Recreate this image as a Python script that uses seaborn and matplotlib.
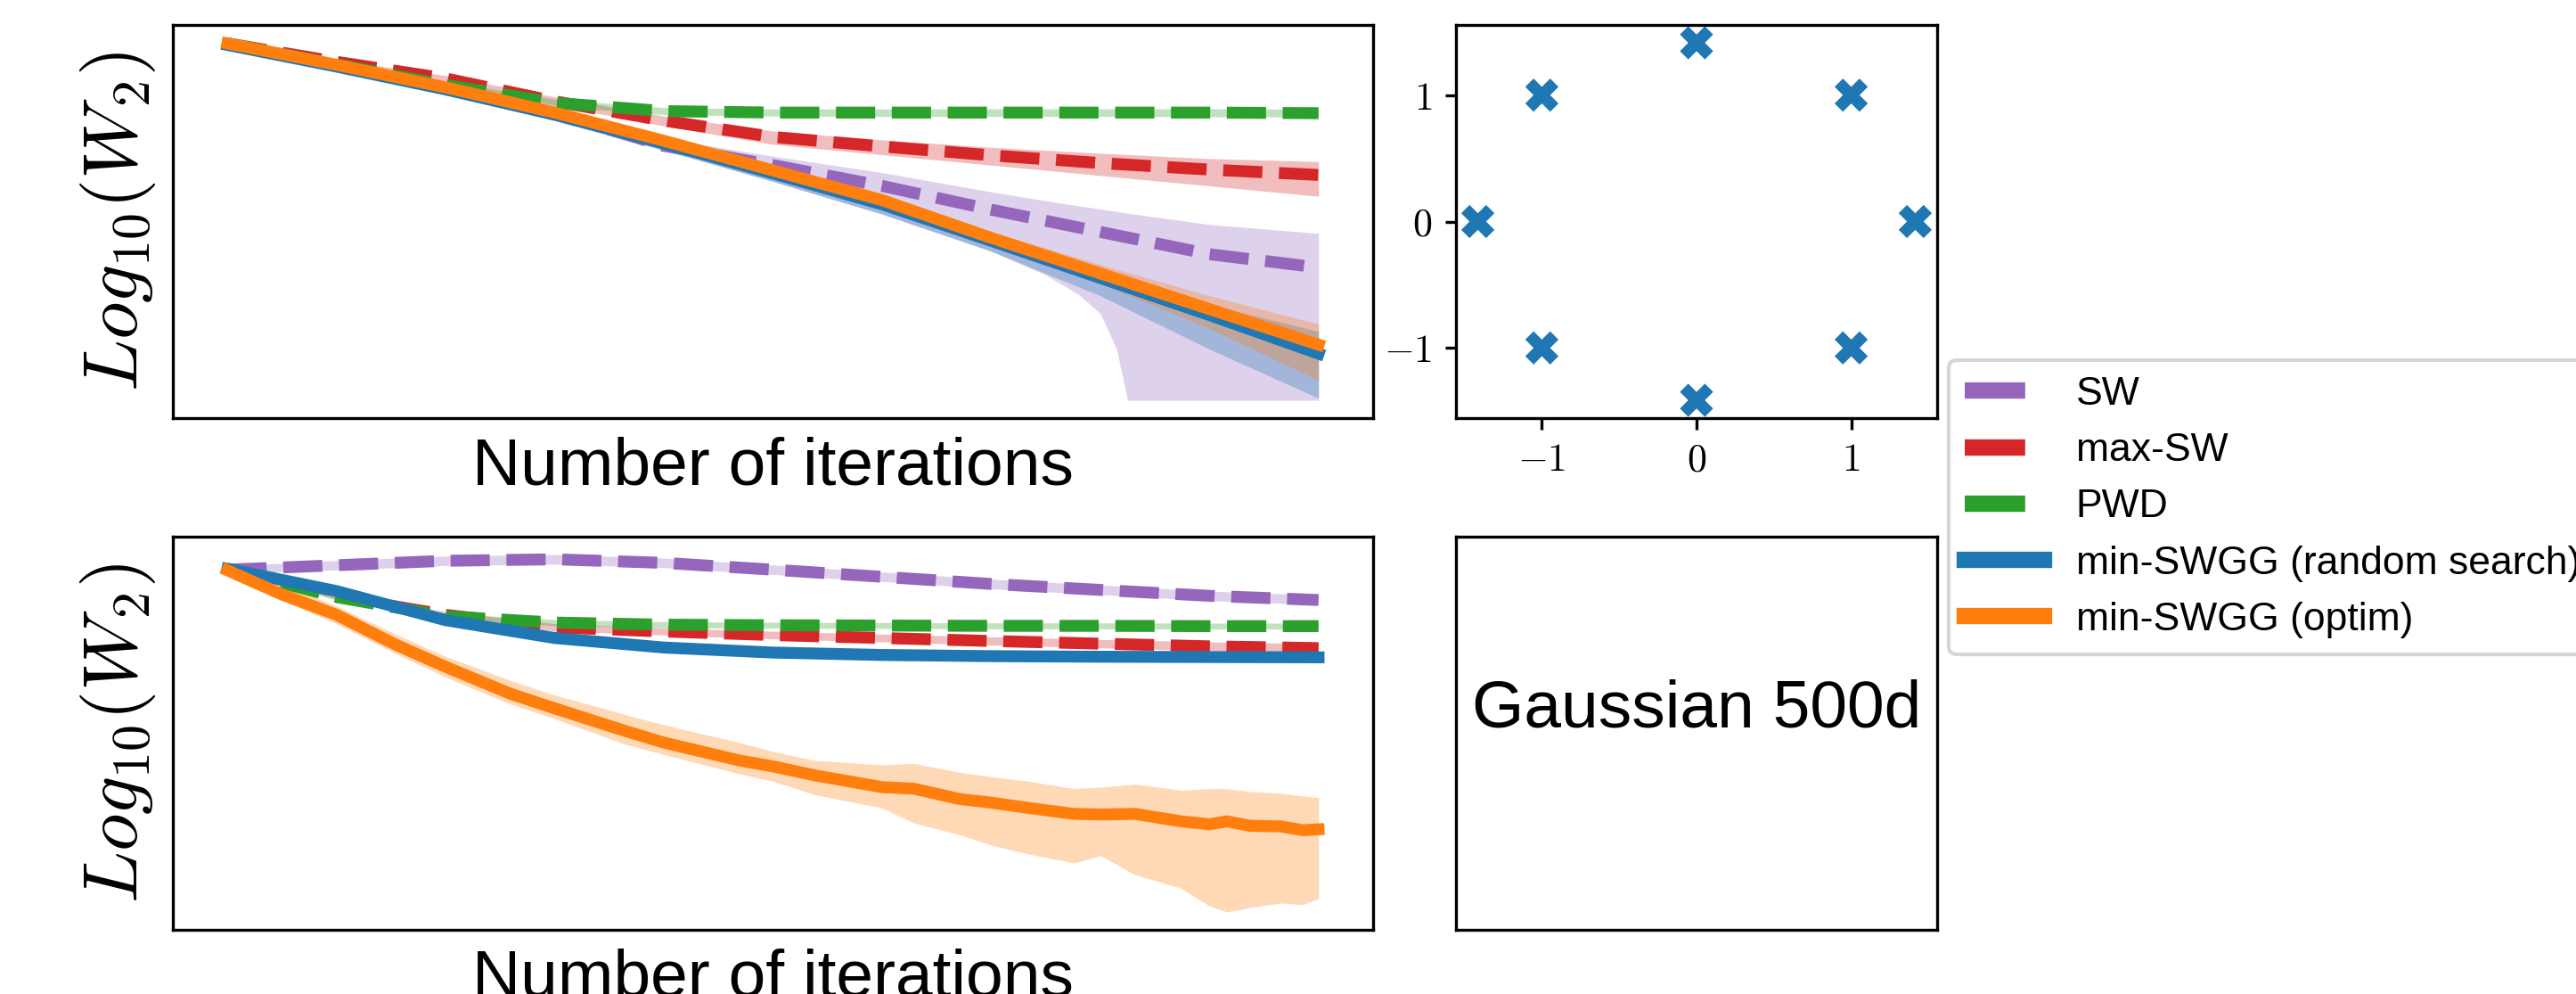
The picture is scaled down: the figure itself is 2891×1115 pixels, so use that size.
import matplotlib
matplotlib.use('Agg')
import matplotlib.pyplot as plt
from matplotlib.lines import Line2D
import seaborn as sns

# ---------------------------------------------------------------
# data (y is log10(W2), arbitrary offset)
# ---------------------------------------------------------------
iters = [0, 100, 200, 300, 400, 500, 600, 700, 800, 900, 1000]

# --- top panel: 2d gaussian mixture ---
top_sw = [-0.150, -0.222, -0.300, -0.385, -0.495, -0.560, -0.630, -0.710, -0.785, -0.860, -0.905]
top_sw_band_x = [0, 100, 200, 300, 400, 500, 600, 700, 750, 780, 800, 815, 825, 900, 1000]
top_sw_hi = [-0.150, -0.218, -0.292, -0.372, -0.470, -0.530, -0.585, -0.650, -0.680, -0.697, -0.708, -0.716, -0.722, -0.760, -0.790]
top_sw_lo = [-0.160, -0.240, -0.322, -0.410, -0.510, -0.615, -0.725, -0.850, -0.930, -0.995, -1.060, -1.180, -1.352, -1.352, -1.352]

top_maxsw = [-0.150, -0.212, -0.268, -0.345, -0.410, -0.465, -0.497, -0.527, -0.553, -0.575, -0.593]
top_maxsw_hi = [-0.150, -0.205, -0.258, -0.330, -0.395, -0.445, -0.475, -0.500, -0.520, -0.538, -0.548]
top_maxsw_lo = [-0.150, -0.220, -0.280, -0.358, -0.428, -0.490, -0.525, -0.560, -0.595, -0.630, -0.665]

top_pwd = [-0.150, -0.220, -0.290, -0.350, -0.378, -0.383, -0.383, -0.383, -0.383, -0.383, -0.385]
top_pwd_hi = [-0.148, -0.210, -0.278, -0.338, -0.366, -0.371, -0.371, -0.370, -0.370, -0.370, -0.372]
top_pwd_lo = [-0.152, -0.230, -0.302, -0.362, -0.390, -0.395, -0.396, -0.396, -0.396, -0.397, -0.398]

top_rs = [-0.155, -0.228, -0.305, -0.390, -0.487, -0.588, -0.692, -0.815, -0.940, -1.065, -1.195]
top_rs_hi = [-0.150, -0.222, -0.298, -0.380, -0.475, -0.575, -0.678, -0.800, -0.915, -1.030, -1.120]
top_rs_lo = [-0.160, -0.240, -0.322, -0.410, -0.510, -0.615, -0.725, -0.850, -1.000, -1.180, -1.345]

top_opt = [-0.150, -0.222, -0.298, -0.383, -0.478, -0.578, -0.678, -0.805, -0.925, -1.045, -1.165]
top_opt_hi = [-0.148, -0.218, -0.292, -0.375, -0.470, -0.568, -0.665, -0.785, -0.895, -1.000, -1.095]
top_opt_lo = [-0.152, -0.226, -0.304, -0.391, -0.486, -0.588, -0.695, -0.830, -0.960, -1.110, -1.285]

# --- bottom panel: gaussian 500d ---
bot_sw = [-0.148, -0.133, -0.118, -0.113, -0.125, -0.148, -0.172, -0.196, -0.216, -0.236, -0.250]
bot_sw_hi = [-0.135, -0.117, -0.102, -0.097, -0.109, -0.132, -0.156, -0.180, -0.200, -0.220, -0.234]
bot_sw_lo = [-0.160, -0.149, -0.134, -0.129, -0.141, -0.164, -0.188, -0.212, -0.232, -0.252, -0.266]

bot_maxsw = [-0.145, -0.238, -0.300, -0.342, -0.356, -0.368, -0.378, -0.388, -0.397, -0.406, -0.412]
bot_maxsw_hi = [-0.145, -0.228, -0.289, -0.330, -0.344, -0.355, -0.365, -0.374, -0.383, -0.391, -0.397]
bot_maxsw_lo = [-0.145, -0.248, -0.311, -0.354, -0.368, -0.381, -0.391, -0.402, -0.411, -0.421, -0.427]

bot_pwd = [-0.145, -0.240, -0.305, -0.326, -0.333, -0.335, -0.336, -0.337, -0.337, -0.338, -0.338]
bot_pwd_hi = [-0.145, -0.230, -0.295, -0.316, -0.323, -0.325, -0.326, -0.327, -0.327, -0.328, -0.328]
bot_pwd_lo = [-0.145, -0.250, -0.315, -0.336, -0.343, -0.345, -0.346, -0.347, -0.347, -0.348, -0.348]

bot_rs = [-0.145, -0.220, -0.318, -0.378, -0.410, -0.427, -0.435, -0.439, -0.441, -0.442, -0.443]
bot_rs_hi = [-0.140, -0.214, -0.312, -0.372, -0.404, -0.421, -0.429, -0.433, -0.435, -0.436, -0.437]
bot_rs_lo = [-0.150, -0.226, -0.324, -0.384, -0.416, -0.433, -0.441, -0.445, -0.447, -0.448, -0.449]

bot_opt_x = [0, 49, 100, 154, 200, 259, 300, 364, 400, 469, 500, 538, 600, 629, 671,
             700, 734, 776, 800, 832, 874, 900, 916, 937, 965, 986, 1000]
bot_opt = [-0.150, -0.230, -0.300, -0.400, -0.475, -0.565, -0.615, -0.690, -0.730, -0.790, -0.810,
           -0.840, -0.880, -0.885, -0.920, -0.932, -0.950, -0.970, -0.972, -0.970, -0.995, -1.005,
           -0.995, -1.010, -1.012, -1.025, -1.022]
bot_opt_hi = [-0.150, -0.195, -0.270, -0.365, -0.440, -0.520, -0.570, -0.635, -0.670, -0.730, -0.760,
              -0.790, -0.805, -0.800, -0.830, -0.845, -0.860, -0.885, -0.880, -0.870, -0.890, -0.885,
              -0.885, -0.895, -0.900, -0.910, -0.915]
bot_opt_lo = [-0.160, -0.250, -0.330, -0.430, -0.510, -0.600, -0.650, -0.735, -0.770, -0.835, -0.860,
              -0.905, -0.950, -1.000, -1.040, -1.075, -1.105, -1.135, -1.110, -1.175, -1.220, -1.280,
              -1.300, -1.285, -1.270, -1.275, -1.255]

# --- 2d source distribution (8 gaussians on a circle) ---
pts_x = [1.414, 1.0, 0.0, -1.0, -1.414, -1.0, 0.0, 1.0]
pts_y = [0.0, 1.0, 1.414, 1.0, 0.0, -1.0, -1.414, -1.0]
tick_vals = [-1, 0, 1]
tick_labels = [r'$-1$', r'$0$', r'$1$']

methods = ['SW', 'max-SW', 'PWD', 'min-SWGG (random search)', 'min-SWGG (optim)']
colors = ['#9467bd', '#d62728', '#2ca02c', '#1f77b4', '#ff7f0e']
dashed = (0, (3.3, 1.4))
styles = [dashed, dashed, dashed, '-', '-']

# ---------------------------------------------------------------
plt.rcParams['font.family'] = ['Liberation Sans', 'DejaVu Sans']
plt.rcParams['mathtext.fontset'] = 'cm'

W, H = 2891, 1115
fig = plt.figure(figsize=(W / 300, H / 300), dpi=300)


def box(x0, y0, x1, y1):
    return [x0 / W, 1 - y1 / H, (x1 - x0) / W, (y1 - y0) / H]


ax_top = fig.add_axes(box(194, 28, 1541, 469))
ax_bot = fig.add_axes(box(194, 602, 1541, 1043))
ax_pts = fig.add_axes(box(1634, 28, 2174, 469))
ax_txt = fig.add_axes(box(1634, 602, 2174, 1043))

LW = 3.2


def draw(ax, x, y, bx, lo, hi, color, ls):
    ax.fill_between(bx, lo, hi, color=color, alpha=0.3, linewidth=0)
    sns.lineplot(x=x, y=y, ax=ax, color=color, linewidth=LW)
    line = ax.get_lines()[-1]
    line.set_linewidth(LW)
    line.set_linestyle(ls)


top_series = [
    (iters, top_sw, top_sw_band_x, top_sw_lo, top_sw_hi),
    (iters, top_maxsw, iters, top_maxsw_lo, top_maxsw_hi),
    (iters, top_pwd, iters, top_pwd_lo, top_pwd_hi),
    (iters, top_rs, iters, top_rs_lo, top_rs_hi),
    (iters, top_opt, iters, top_opt_lo, top_opt_hi),
]
bot_series = [
    (iters, bot_sw, iters, bot_sw_lo, bot_sw_hi),
    (iters, bot_maxsw, iters, bot_maxsw_lo, bot_maxsw_hi),
    (iters, bot_pwd, iters, bot_pwd_lo, bot_pwd_hi),
    (iters, bot_rs, iters, bot_rs_lo, bot_rs_hi),
    (bot_opt_x, bot_opt, bot_opt_x, bot_opt_lo, bot_opt_hi),
]

for ax, series in [(ax_top, top_series), (ax_bot, bot_series)]:
    for (x, y, bx, lo, hi), c, ls in zip(series, colors, styles):
        draw(ax, x, y, bx, lo, hi, c, ls)
    ax.set_xticks([])
    ax.set_yticks([])
    ax.set_xlabel('Number of iterations', fontsize=18, labelpad=5)
    ax.set_ylabel(r'$Log_{10}(W_2)$', fontsize=20.5)

# scatter of the source points
sns.scatterplot(x=pts_x, y=pts_y, ax=ax_pts, marker='X', s=80, color='#1f77b4',
                edgecolor='none', linewidth=0)
ax_pts.set_xticks(tick_vals, labels=tick_labels)
ax_pts.set_yticks(tick_vals, labels=tick_labels)
ax_pts.tick_params(labelsize=10.5, length=3)

# text panel
ax_txt.set_xticks([])
ax_txt.set_yticks([])
ax_txt.text(0.5, 0.56, 'Gaussian 500d', fontsize=18, ha='center', va='center',
            transform=ax_txt.transAxes)

handles = [Line2D([0], [0], color=c, linestyle='--' if i < 3 else '-', linewidth=4.4)
           for i, c in enumerate(colors)]
fig.legend(handles, methods, loc='upper left', bbox_to_anchor=(2187 / W, 1 - 404 / H),
           borderaxespad=0, fontsize=10.7)

fig.savefig('out.png', dpi=300)
